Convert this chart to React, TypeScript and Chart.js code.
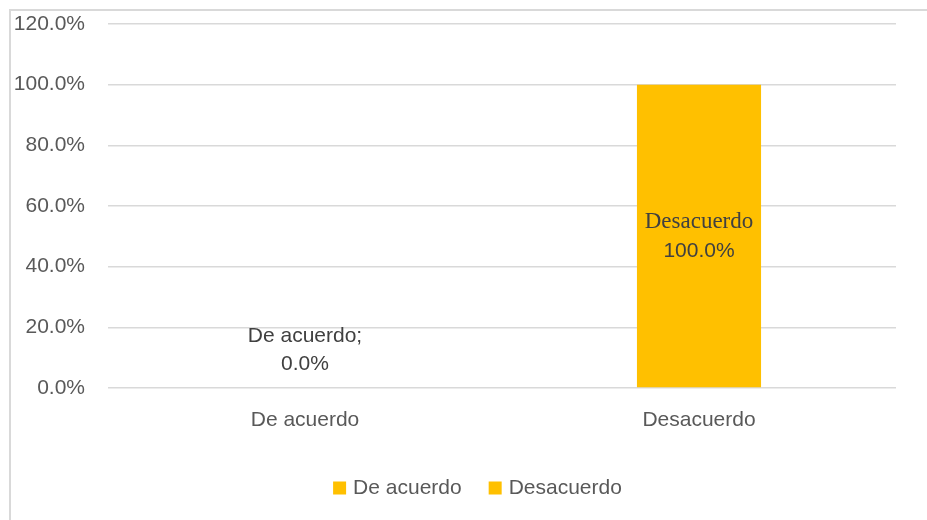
import React, { useEffect, useRef } from "react";
import { Chart, registerables } from "chart.js";

Chart.register(...registerables);

const categories = ["De acuerdo", "Desacuerdo"];
const values = [0, 1.0];
const yTicks = [0, 0.2, 0.4, 0.6, 0.8, 1.0, 1.2];
const barColor = "#FFC000";

const SANS = "'Liberation Sans', Arial, sans-serif";
const SERIF = "'Liberation Serif', 'Times New Roman', serif";

const pct = (v: number) => (v * 100).toFixed(1) + "%";

const labelPlugin = {
  id: "barLabels",
  afterDatasetsDraw(chart: any) {
    const ctx = chart.ctx;
    const meta = chart.getDatasetMeta(0);
    ctx.save();
    ctx.fillStyle = "#404040";
    ctx.textAlign = "center";
    ctx.textBaseline = "middle";
    meta.data.forEach((bar: any, i: number) => {
      const v = values[i];
      if (v === 0) {
        ctx.font = `21px ${SANS}`;
        ctx.fillText(categories[i] + ";", bar.x, bar.y - 52);
        ctx.fillText(pct(v), bar.x, bar.y - 24);
      } else {
        const mid = (bar.y + bar.base) / 2;
        ctx.font = `23px ${SERIF}`;
        ctx.fillText(categories[i], bar.x, mid - 14);
        ctx.font = `21px ${SANS}`;
        ctx.fillText(pct(v), bar.x, mid + 15);
      }
    });
    ctx.restore();
  },
};

const legendPlugin = {
  id: "customLegend",
  afterDraw(chart: any) {
    const ctx = chart.ctx;
    ctx.save();
    ctx.font = `21px ${SANS}`;
    ctx.textBaseline = "middle";
    ctx.textAlign = "left";
    const box = 13;
    const gapText = 7;
    const gapItem = 27;
    const widths = categories.map((c) => box + gapText + ctx.measureText(c).width);
    const total = widths.reduce((a, b) => a + b, 0) + gapItem * (categories.length - 1);
    let x = chart.width / 2 + 14 - total / 2;
    const yc = chart.height - 32;
    categories.forEach((c, i) => {
      ctx.fillStyle = barColor;
      ctx.fillRect(x, yc - box / 2, box, box);
      ctx.fillStyle = "#595959";
      ctx.fillText(c, x + box + gapText, yc);
      x += widths[i] + gapItem;
    });
    ctx.restore();
  },
};

export default function App() {
  const ref = useRef<HTMLCanvasElement>(null);
  useEffect(() => {
    if (!ref.current) return;
    const chart = new Chart(ref.current, {
      type: "bar",
      data: {
        labels: categories,
        datasets: [
          {
            label: "Serie",
            data: values,
            backgroundColor: barColor,
            barPercentage: 0.315,
            categoryPercentage: 1,
          },
        ],
      },
      options: {
        animation: false,
        responsive: false,
        maintainAspectRatio: false,
        layout: { padding: { top: 24, right: 31, left: 0, bottom: 65 } },
        scales: {
          x: {
            grid: { display: false, drawTicks: false },
            border: { display: false },
            ticks: {
              color: "#595959",
              font: { family: SANS, size: 21 },
              padding: 20,
            },
            afterFit(scale: any) {
              scale.height = 67;
              scale.paddingLeft = 0;
              scale.paddingRight = 0;
            },
          },
          y: {
            min: 0,
            max: 1.2,
            afterBuildTicks(scale: any) {
              scale.ticks = yTicks.map((v) => ({ value: v }));
            },
            grid: { color: "#d9d9d9", lineWidth: 1.5, drawTicks: false },
            border: { display: false },
            ticks: {
              color: "#595959",
              font: { family: SANS, size: 21 },
              padding: 23,
              callback: (v: any) => pct(Number(v)),
            },
            afterFit(scale: any) {
              scale.width = 108;
              scale.paddingTop = 0;
              scale.paddingBottom = 0;
            },
          },
        },
        plugins: {
          tooltip: { enabled: false },
          legend: { display: false },
        },
      },
      plugins: [labelPlugin, legendPlugin],
    } as any);
    return () => chart.destroy();
  }, []);

  return (
    <div style={{ position: "fixed", left: 0, top: 0, width: 927, height: 520, background: "#fff" }}>
      <div
        style={{
          position: "absolute",
          left: 9,
          top: 9,
          width: 940,
          height: 540,
          borderLeft: "2px solid #d9d9d9",
          borderTop: "2px solid #d9d9d9",
          boxSizing: "border-box",
        }}
      />
      <canvas ref={ref} width={927} height={520} style={{ position: "absolute", left: 0, top: 0 }} />
    </div>
  );
}
